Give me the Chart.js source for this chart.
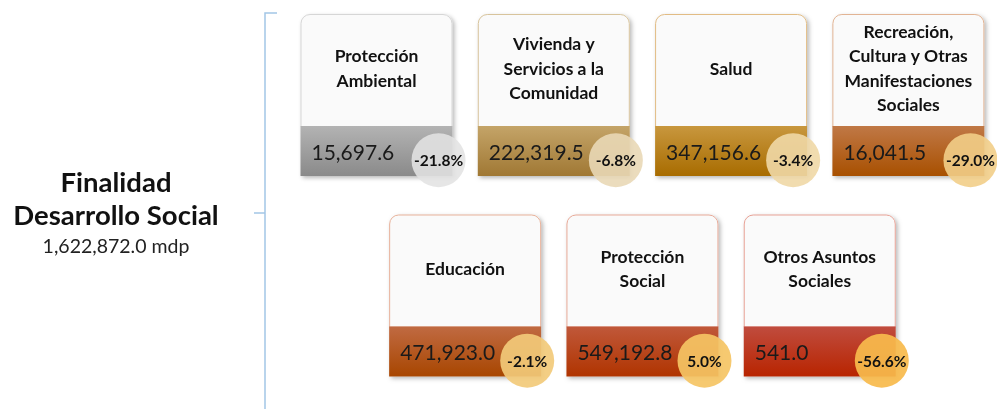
<!DOCTYPE html>
<html lang="es">
<head>
<meta charset="UTF-8">
<title>Finalidad Desarrollo Social</title>
<script src="https://cdn.jsdelivr.net/npm/chart.js"></script>
<style>
  body { margin: 0; background: #fff; }
  canvas { display: block; }
</style>
</head>
<body>
<canvas id="chart" width="997" height="409"></canvas>
<script>
// data
const categories = [
  ['Protección', 'Ambiental'],
  ['Vivienda y', 'Servicios a la', 'Comunidad'],
  ['Salud'],
  ['Recreación,', 'Cultura y Otras', 'Manifestaciones', 'Sociales'],
  ['Educación'],
  ['Protección', 'Social'],
  ['Otros Asuntos', 'Sociales']
];
const amounts = [15697.6, 222319.5, 347156.6, 16041.5, 471923.0, 549192.8, 541.0];
const changes = [-21.8, -6.8, -3.4, -29.0, -2.1, 5.0, -56.6];
const titleLines = ['Finalidad', 'Desarrollo Social'];
const totalAmount = 1622872.0;

// styles
const bandTop = ['#b3b3b3', '#c4a468', '#c8973e', '#c07846', '#c06a42', '#c0583a', '#c04c3e'];
const bandBottom = ['#8a8a8a', '#a07834', '#a86c00', '#a85000', '#a84600', '#b03400', '#b82400'];
const cardBorder = ['#d6d6d6', '#d8c49c', '#e2bc84', '#e2b494', '#e8b29a', '#e8aa98', '#e8a296'];
const circleFill = [
  'rgba(226,226,226,0.88)', 'rgba(233,216,182,0.9)', 'rgba(240,216,166,0.9)',
  'rgba(242,206,136,0.9)', 'rgba(242,202,122,0.92)', 'rgba(245,196,100,0.92)', 'rgba(247,186,76,0.93)'
];

const font = 'Lato, "Open Sans", sans-serif';
const fmt = v => v.toLocaleString('en-US', { minimumFractionDigits: 1, maximumFractionDigits: 1 });

// first row has four cards, second row three, shifted half a column
const slot = i => i < 4 ? { col: i, row: 0 } : { col: i - 4 + 0.5, row: 1 };

const cardW = 152, cardH = 162, bandH = 50;

const cardsPlugin = {
  id: 'cards',
  beforeDatasetsDraw(chart) {
    const { ctx, scales: { x, y } } = chart;
    ctx.save();

    // brace
    ctx.strokeStyle = '#a3c6e6';
    ctx.lineWidth = 1.5;
    ctx.beginPath();
    ctx.moveTo(277, 13); ctx.lineTo(265, 13); ctx.lineTo(265, 409);
    ctx.moveTo(265, 213); ctx.lineTo(254, 213);
    ctx.stroke();

    // left title
    ctx.fillStyle = '#111';
    ctx.textAlign = 'center';
    ctx.textBaseline = 'middle';
    ctx.font = 'bold 27.5px ' + font;
    ctx.fillText(titleLines[0], 116, 183);
    ctx.fillText(titleLines[1], 116, 216);
    ctx.font = '19.5px ' + font;
    ctx.fillStyle = '#222';
    ctx.fillText(fmt(totalAmount) + ' mdp', 116, 247);

    categories.forEach((lines, i) => {
      const s = slot(i);
      const cx = x.getPixelForValue(s.col);
      const cy = y.getPixelForValue(s.row);
      const left = cx - cardW / 2, top = cy - cardH / 2;
      const bandY = top + cardH - bandH;

      // card body with shadow
      ctx.save();
      ctx.shadowColor = 'rgba(0,0,0,0.28)';
      ctx.shadowBlur = 4;
      ctx.shadowOffsetX = 2;
      ctx.shadowOffsetY = 2;
      ctx.fillStyle = '#fafafa';
      ctx.beginPath();
      ctx.roundRect(left, top, cardW, cardH, [9, 9, 0, 0]);
      ctx.fill();
      ctx.restore();

      ctx.strokeStyle = cardBorder[i];
      ctx.lineWidth = 1;
      ctx.beginPath();
      ctx.roundRect(left + 0.5, top + 0.5, cardW - 1, cardH - bandH, [9, 9, 0, 0]);
      ctx.stroke();

      // value band
      const g = ctx.createLinearGradient(0, bandY, 0, bandY + bandH);
      g.addColorStop(0, bandTop[i]);
      g.addColorStop(1, bandBottom[i]);
      ctx.fillStyle = g;
      ctx.fillRect(left, bandY, cardW, bandH);

      // title
      ctx.fillStyle = '#111';
      ctx.textAlign = 'center';
      ctx.textBaseline = 'middle';
      ctx.font = 'bold 17.5px ' + font;
      const lh = 24.5;
      const y0 = cy - 26 - (lines.length - 1) * lh / 2;
      lines.forEach((t, k) => ctx.fillText(t, cx, y0 + k * lh));

      // amount
      ctx.textAlign = 'left';
      ctx.font = '21px ' + font;
      ctx.fillStyle = '#1a1a1a';
      ctx.fillText(fmt(amounts[i]), left + 11, bandY + 27);
    });
    ctx.restore();
  },
  afterDatasetsDraw(chart) {
    const { ctx } = chart;
    const meta = chart.getDatasetMeta(0);
    ctx.save();
    ctx.fillStyle = '#111';
    ctx.textAlign = 'center';
    ctx.textBaseline = 'middle';
    ctx.font = 'bold 15.5px ' + font;
    meta.data.forEach((pt, i) => {
      ctx.fillText(changes[i].toFixed(1) + '%', pt.x, pt.y + 1);
    });
    ctx.restore();
  }
};

// the bubble radius (27) insets the chart area by 27px on every side
new Chart(document.getElementById('chart'), {
  type: 'bubble',
  data: {
    datasets: [{
      label: 'Variación',
      data: changes.map((c, i) => ({ x: slot(i).col + 0.35, y: slot(i).row + 0.325 })),
      radius: 27,
      backgroundColor: circleFill,
      borderWidth: 0,
      clip: false
    }]
  },
  options: {
    responsive: false,
    animation: false,
    layout: { padding: 0 },
    scales: {
      x: { type: 'linear', display: false, min: -1.9712, max: 3.3475 },
      y: { type: 'linear', display: false, min: -0.3392, max: 1.4314, reverse: true }
    },
    plugins: {
      legend: { display: false },
      tooltip: { enabled: false }
    }
  },
  plugins: [cardsPlugin]
});
</script>
</body>
</html>
